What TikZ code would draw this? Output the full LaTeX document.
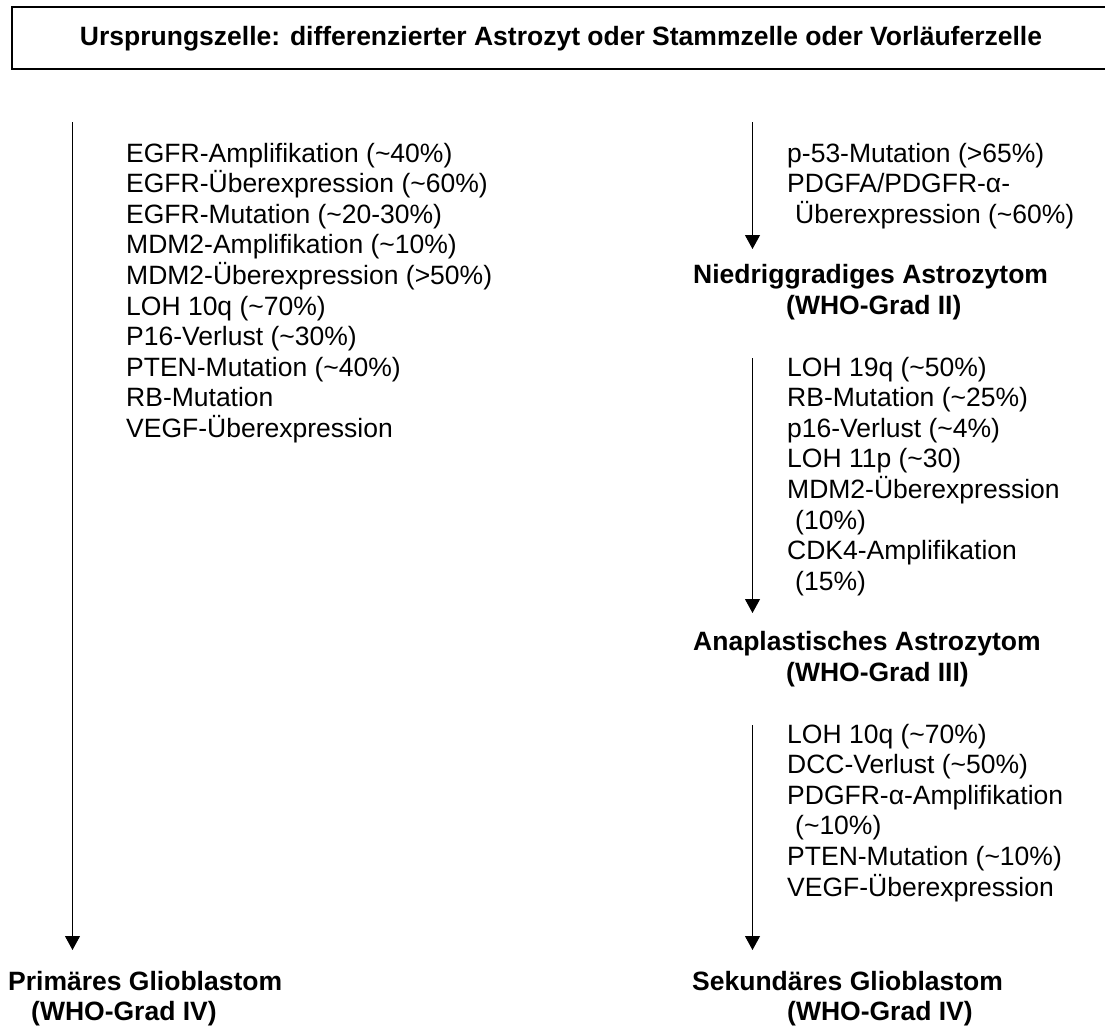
\documentclass[tikz,border=0pt]{standalone}
\usepackage{fontspec}
\setmainfont{Liberation Sans}
\usetikzlibrary{arrows.meta}
\newcommand{\tld}{\textasciitilde}
\begin{document}
\begin{tikzpicture}[x=1pt,y=-1pt,
  item/.style={anchor=base west, inner sep=0pt, font=\fontsize{26.5}{30.6}\selectfont},
  ttl/.style={item, font=\fontsize{26.5}{30.6}\selectfont\bfseries},
  conn/.style={line width=1pt, -{Triangle[length=14pt,width=15pt]}},
  frame/.style={line width=2pt}]
\useasboundingbox (0,0) rectangle (1105,1025);

% header
\draw[frame] (1112,7) -- (12,7) -- (12,69) -- (1112,69);
\node[ttl, anchor=base] (hdr) at (561,46) {Ursprungszelle: differenzierter Astrozyt oder Stammzelle oder Vorläuferzelle};

% left column
\coordinate (l0) at (72.5,122);
\coordinate (l1) at (72.5,950);
\draw[conn] (l0) -- (l1);
\node[item] (a1)  at (126,162.0) {EGFR-Amplifikation (\tld40\%)};
\node[item] (a2)  at (126,192.6) {EGFR-Überexpression (\tld60\%)};
\node[item] (a3)  at (126,223.2) {EGFR-Mutation (\tld20-30\%)};
\node[item] (a4)  at (126,253.8) {MDM2-Amplifikation (\tld10\%)};
\node[item] (a5)  at (126,284.4) {MDM2-Überexpression (>50\%)};
\node[item] (a6)  at (126,315.0) {LOH 10q (\tld70\%)};
\node[item] (a7)  at (126,345.6) {P16-Verlust (\tld30\%)};
\node[item] (a8)  at (126,376.2) {PTEN-Mutation (\tld40\%)};
\node[item] (a9)  at (126,406.8) {RB-Mutation};
\node[item] (a10) at (126,437.4) {VEGF-Überexpression};
\node[ttl] (prim1) at (8,990) {Primäres Glioblastom};
\node[ttl] (prim2) at (31,1020) {(WHO-Grad IV)};

% right column
\coordinate (r0) at (752.5,122);
\coordinate (r1) at (752.5,249);
\draw[conn] (r0) -- (r1);
\node[item] (b1) at (787,162.0) {p-53-Mutation (>65\%)};
\node[item] (b2) at (787,192.6) {PDGFA/PDGFR-α-};
\node[item] (b3) at (795,223.2) {Überexpression (\tld60\%)};
\node[ttl] (nied1) at (693,283) {Niedriggradiges Astrozytom};
\node[ttl] (nied2) at (786,314) {(WHO-Grad II)};

\coordinate (r2) at (752.5,358);
\coordinate (r3) at (752.5,613);
\draw[conn] (r2) -- (r3);
\node[item] (c1) at (787,376.0) {LOH 19q (\tld50\%)};
\node[item] (c2) at (787,406.6) {RB-Mutation (\tld25\%)};
\node[item] (c3) at (787,437.2) {p16-Verlust (\tld4\%)};
\node[item] (c4) at (787,467.8) {LOH 11p (\tld30)};
\node[item] (c5) at (787,498.4) {MDM2-Überexpression};
\node[item] (c6) at (795,529.0) {(10\%)};
\node[item] (c7) at (787,559.6) {CDK4-Amplifikation};
\node[item] (c8) at (795,590.2) {(15\%)};
\node[ttl] (ana1) at (693,650) {Anaplastisches Astrozytom};
\node[ttl] (ana2) at (786,681) {(WHO-Grad III)};

\coordinate (r4) at (752.5,725);
\coordinate (r5) at (752.5,950);
\draw[conn] (r4) -- (r5);
\node[item] (d1) at (787,743.0) {LOH 10q (\tld70\%)};
\node[item] (d2) at (787,773.6) {DCC-Verlust (\tld50\%)};
\node[item] (d3) at (787,804.2) {PDGFR-α-Amplifikation};
\node[item] (d4) at (795,834.8) {(\tld10\%)};
\node[item] (d5) at (787,865.4) {PTEN-Mutation (\tld10\%)};
\node[item] (d6) at (787,896.0) {VEGF-Überexpression};
\node[ttl] (sek1) at (692,990) {Sekundäres Glioblastom};
\node[ttl] (sek2) at (787,1020) {(WHO-Grad IV)};
\end{tikzpicture}
\end{document}
